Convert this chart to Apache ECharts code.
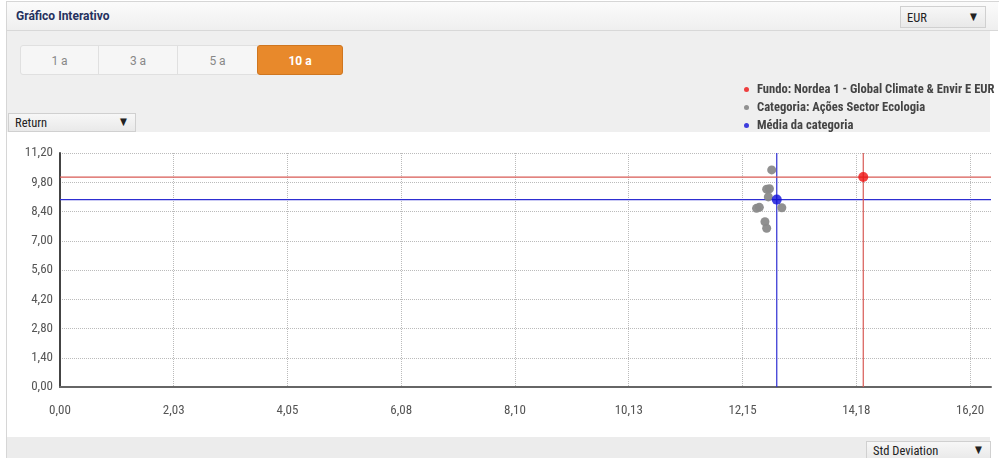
<!DOCTYPE html>
<html>
<head>
<meta charset="utf-8">
<script src="https://cdn.jsdelivr.net/npm/echarts@6/dist/echarts.min.js"></script>
<style>
  html, body { margin:0; padding:0; width:1000px; height:458px; overflow:hidden; background:#fff;
    font-family: 'Roboto Condensed','Liberation Sans Narrow','DejaVu Sans Condensed',Roboto,sans-serif; }
  #frame { position:absolute; left:6px; top:1px; width:992px; height:457px; border-left:1px solid #d6d6d6; border-top:1px solid #d6d6d6; }
  #header { position:absolute; left:7px; top:2px; width:991px; height:28px; background:linear-gradient(#fbfbfb,#efefef); border-bottom:1px solid #d8d8d8; }
  #title { position:absolute; left:9px; top:7px; font-family:Roboto,sans-serif; font-size:12px; font-weight:bold; color:#25315e; }
  .sel { position:absolute; background:linear-gradient(#f7f7f7,#e9e9e9); border:1px solid #d0d0d0; font-size:12.5px; color:#222; box-sizing:border-box; }
  .sel span.t { position:absolute; left:6px; top:1px; }
  .sel span.a { position:absolute; right:8px; top:2px; font-size:10px; }
  #band { position:absolute; left:7px; top:31px; width:983px; height:101px; background:#efefef; }
  #btns { position:absolute; left:20px; top:45px; height:30px; }
  .b { position:absolute; top:0; height:30px; line-height:30px; text-align:center; font-family:Roboto,sans-serif; font-size:12px; color:#888; background:#f6f6f6; border:1px solid #e0e0e0; box-sizing:border-box; }
  .b.on { background:#e8892b; color:#fff; font-weight:bold; border:1px solid #cf7620; border-radius:3px; }
  #bottom { position:absolute; left:7px; top:437px; width:983px; height:21px; background:#ececec; }
  #chart { position:absolute; left:0; top:0; width:1000px; height:458px; z-index:2; }
</style>
</head>
<body>
<div id="frame"></div>
<div id="header"><div id="title">Gráfico Interativo</div></div>
<div class="sel" style="left:900px;top:6px;width:86px;height:22px;z-index:3"><span class="t" style="top:3px">EUR</span><span class="a" style="top:4px">▼</span></div>
<div id="band"></div>
<div id="btns">
  <div class="b" style="left:0;width:79px;border-radius:3px 0 0 3px">1 a</div>
  <div class="b" style="left:78px;width:80px">3 a</div>
  <div class="b" style="left:157px;width:81px">5 a</div>
  <div class="b on" style="left:237px;width:86px">10 a</div>
</div>
<div class="sel" style="left:8px;top:113px;width:128px;height:19px"><span class="t">Return</span><span class="a">▼</span></div>
<div id="bottom"></div>
<div class="sel" style="left:866px;top:441px;width:125px;height:19px"><span class="t">Std Deviation</span><span class="a">▼</span></div>
<div id="chart"></div>
<script>
// ---- data ----
const xTickLabels = ['0,00','2,03','4,05','6,08','8,10','10,13','12,15','14,18','16,20'];
const yTickLabels = ['0,00','1,40','2,80','4,20','5,60','7,00','8,40','9,80','11,20'];
const fundName = 'Fundo: Nordea 1 - Global Climate & Envir E EUR';
const categoryName = 'Categoria: Ações Sector Ecologia';
const averageName = 'Média da categoria';
const fundStdDev = [14.30];
const fundReturn = [10.05];
const categoryStdDev = [12.67, 12.58, 12.63, 12.61, 12.40, 12.45, 12.85, 12.55, 12.58];
const categoryReturn = [10.39, 9.47, 9.49, 9.10, 8.55, 8.60, 8.58, 7.91, 7.60];
const averageStdDev = [12.76];
const averageReturn = [8.97];

const xMin = 0, xMax = 16.574, yMin = 0, yMax = 11.2;
const xInterval = 2.025, yInterval = 1.4;
const font = "'Roboto Condensed','Liberation Sans Narrow','DejaVu Sans Condensed',Roboto,sans-serif";
const zip = (a, b) => a.map((v, i) => [v, b[i]]);
const blueColor = '#2e2ed2', redColor = '#d85a55';

function guide(name, color, pts, z) {
  return { name, type: 'line', data: pts, showSymbol: false, symbol: 'none', silent: true, z,
    lineStyle: { color, width: 1.2, type: 'solid' }, itemStyle: { color }, emphasis: { disabled: true } };
}

const chart = echarts.init(document.getElementById('chart'), null, { renderer: 'canvas' });
chart.setOption({
  animation: false,
  textStyle: { fontFamily: font },
  legend: {
    orient: 'vertical', left: 739, top: 77, itemWidth: 5, itemHeight: 5, itemGap: 3,
    icon: 'circle', selectedMode: false,
    textStyle: { fontFamily: font, fontSize: 12.6, fontWeight: 'bold', color: '#444', lineHeight: 15, padding: [0,0,0,3] },
    data: [fundName, categoryName, averageName]
  },
  grid: { left: 60, right: 9, top: 153, bottom: 71, containLabel: false },
  xAxis: {
    type: 'value', min: xMin, max: xMax, interval: xInterval,
    axisLine: { show: true, lineStyle: { color: '#666', width: 2 } },
    axisTick: { show: false },
    axisLabel: { color: '#555', fontSize: 13, margin: 17, showMaxLabel: false,
      formatter: v => { const i = Math.round(v / xInterval); return Math.abs(v - i * xInterval) < 1e-6 ? (xTickLabels[i] || '') : ''; } },
    splitLine: { show: true, showMaxLine: false, lineStyle: { color: '#bbb', type: [1, 1], width: 1 } }
  },
  yAxis: {
    type: 'value', min: yMin, max: yMax, interval: yInterval,
    axisLine: { show: true, lineStyle: { color: '#444', width: 2 } },
    axisTick: { show: false },
    axisLabel: { color: '#555', fontSize: 13, margin: 7,
      formatter: v => yTickLabels[Math.round(v / yInterval)] || '' },
    splitLine: { show: true, lineStyle: { color: '#bbb', type: [1, 1], width: 1 } }
  },
  series: [
    guide('avgX', blueColor, [[averageStdDev[0], yMin], [averageStdDev[0], yMax]], 2),
    guide('avgY', blueColor, [[xMin, averageReturn[0]], [xMax, averageReturn[0]]], 2),
    guide('fundX', redColor, [[fundStdDev[0], yMin], [fundStdDev[0], yMax]], 2),
    guide('fundY', redColor, [[xMin, fundReturn[0]], [xMax, fundReturn[0]]], 2),
    {
      name: categoryName, type: 'scatter', symbolSize: 9, z: 3,
      itemStyle: { color: '#8a8a8a', opacity: 0.95 },
      data: zip(categoryStdDev, categoryReturn)
    },
    {
      name: averageName, type: 'scatter', symbolSize: 10, z: 5,
      itemStyle: { color: '#1010d8' },
      data: zip(averageStdDev, averageReturn)
    },
    {
      name: fundName, type: 'scatter', symbolSize: 10, z: 6,
      itemStyle: { color: '#ee1111' },
      data: zip(fundStdDev, fundReturn)
    }
  ]
});
</script>
</body>
</html>
